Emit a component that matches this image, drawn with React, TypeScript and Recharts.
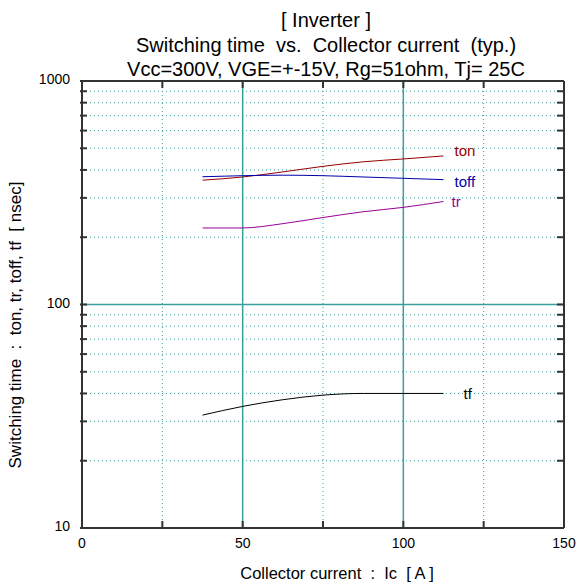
import React from 'react';
import { LineChart, Line, XAxis, YAxis, ReferenceLine } from 'recharts';

const current = [37.5, 50, 62.5, 75, 87.5, 100, 112.5];
const ton = [360, 372, 392, 415, 435, 448, 462];
const toff = [373, 377, 379, 377, 372, 367, 362];
const tr = [220, 220, 230, 245, 260, 272, 289];
const tf = [32, 35, 37.5, 39.3, 40, 40, 40];

const xTicks = [0, 25, 50, 75, 100, 125, 150];
const xLabels = [0, 50, 100, 150];
const yMajor = [10, 100, 1000];
const yMinor = [20, 30, 40, 50, 60, 70, 80, 90, 200, 300, 400, 500, 600, 700, 800, 900];

const data = current.map((ic, i) => ({ ic, ton: ton[i], toff: toff[i], tr: tr[i], tf: tf[i] }));

const W = 579;
const H = 588;
const margin = { top: 81, right: 15, bottom: 30, left: 22 };
const plotRight = W - margin.right;
const plotTop = margin.top;

const teal = '#3a9e9e';
const frame = '#333';
const font = 'Liberation Sans, Arial, sans-serif';

const endLabel = (name: string, color: string, dx: number, dy: number) => (props: any) => {
  if (props.index !== data.length - 1) return null;
  return (
    <text x={props.x + dx} y={props.y + dy} fill={color} fontSize={15} fontFamily={font}>
      {name}
    </text>
  );
};

// left tick + matching inward tick on the right edge
const YTick = (props: any) => {
  const { x, y, payload } = props;
  const v = payload.value;
  return (
    <g>
      <line x1={x} x2={x + 7} y1={y} y2={y} stroke={frame} strokeWidth={2} />
      <line x1={plotRight - 7} x2={plotRight} y1={y} y2={y} stroke={frame} strokeWidth={2} />
      {yMajor.includes(v) && (
        <text x={x - 10} y={y + 3} textAnchor="end" fontSize={14} fontFamily={font} fill="#000">
          {v}
        </text>
      )}
    </g>
  );
};

// bottom tick + matching inward tick on the top edge
const XTick = (props: any) => {
  const { x, y, payload } = props;
  const v = payload.value;
  return (
    <g>
      <line x1={x} x2={x} y1={y - 2} y2={y - 9} stroke={frame} strokeWidth={2} />
      <line x1={x} x2={x} y1={plotTop} y2={plotTop + 7} stroke={frame} strokeWidth={2} />
      {xLabels.includes(v) && (
        <text x={x} y={y + 18} textAnchor="middle" fontSize={14} fontFamily={font} fill="#000">
          {v}
        </text>
      )}
    </g>
  );
};

export default function App() {
  const yTicks = [...yMajor, ...yMinor].sort((a, b) => a - b);
  return (
    <div style={{ position: 'absolute', left: 0, top: 0, width: W, height: H, background: '#fff', fontFamily: font }}>
      <div style={{ position: 'absolute', left: 0, width: 652, top: 8, textAlign: 'center', fontSize: 20, lineHeight: '24.5px', color: '#000' }}>
        <div>[ Inverter ]</div>
        <div>Switching time&nbsp; vs.&nbsp; Collector current&nbsp; (typ.)</div>
        <div>Vcc=300V, VGE=+-15V, Rg=51ohm, Tj= 25C</div>
      </div>
      <div style={{ position: 'absolute', left: 0, width: 674, top: 563, textAlign: 'center', fontSize: 16.5, lineHeight: '20px', color: '#000' }}>
        Collector current&nbsp; :&nbsp; Ic&nbsp; [ A ]
      </div>
      <div
        style={{
          position: 'absolute',
          left: 16,
          top: 325,
          width: 400,
          marginLeft: -200,
          marginTop: -10,
          lineHeight: '20px',
          textAlign: 'center',
          fontSize: 17,
          color: '#000',
          transform: 'rotate(-90deg)',
        }}
      >
        Switching time&nbsp; :&nbsp; ton, tr, toff, tf&nbsp; [ nsec]
      </div>
      <div style={{ position: 'absolute', left: 0, top: 0 }}>
        <LineChart width={W} height={H} data={data} margin={margin}>
          <XAxis
            dataKey="ic"
            type="number"
            domain={[0, 150]}
            ticks={xTicks}
            height={30}
            tickSize={0}
            tickLine={false}
            axisLine={{ stroke: frame, strokeWidth: 2 }}
            tick={<XTick />}
            interval={0}
          />
          <YAxis
            scale="log"
            domain={[10, 1000]}
            ticks={yTicks}
            width={60}
            tickSize={0}
            tickLine={false}
            axisLine={{ stroke: frame, strokeWidth: 2 }}
            tick={<YTick />}
            interval={0}
            allowDataOverflow
          />
          {yMinor.map((v) => (
            <ReferenceLine key={'h' + v} y={v} stroke={teal} strokeDasharray="1 3" strokeWidth={1} />
          ))}
          <ReferenceLine y={100} stroke={teal} strokeWidth={1.5} />
          {[25, 75, 125].map((v) => (
            <ReferenceLine key={'v' + v} x={v} stroke={teal} strokeDasharray="1 3" strokeWidth={1} />
          ))}
          {[50, 100].map((v) => (
            <ReferenceLine key={'vs' + v} x={v} stroke={teal} strokeWidth={1.5} />
          ))}
          <ReferenceLine x={150} stroke={frame} strokeWidth={2} ifOverflow="visible" />
          <ReferenceLine y={1000} stroke={frame} strokeWidth={2} ifOverflow="visible" />
          <ReferenceLine y={10} stroke={frame} strokeWidth={2} ifOverflow="visible" />
          <Line dataKey="ton" stroke="#990000" strokeWidth={1} dot={false} type="monotone" isAnimationActive={false} label={endLabel('ton', '#990000', 11, 0)} />
          <Line dataKey="toff" stroke="#0000aa" strokeWidth={1} dot={false} type="monotone" isAnimationActive={false} label={endLabel('toff', '#0000aa', 11, 7)} />
          <Line dataKey="tr" stroke="#990099" strokeWidth={1} dot={false} type="monotone" isAnimationActive={false} label={endLabel('tr', '#990099', 8, 6)} />
          <Line dataKey="tf" stroke="#000" strokeWidth={1} dot={false} type="monotone" isAnimationActive={false} label={endLabel('tf', '#000', 20, 6)} />
        </LineChart>
      </div>
    </div>
  );
}
